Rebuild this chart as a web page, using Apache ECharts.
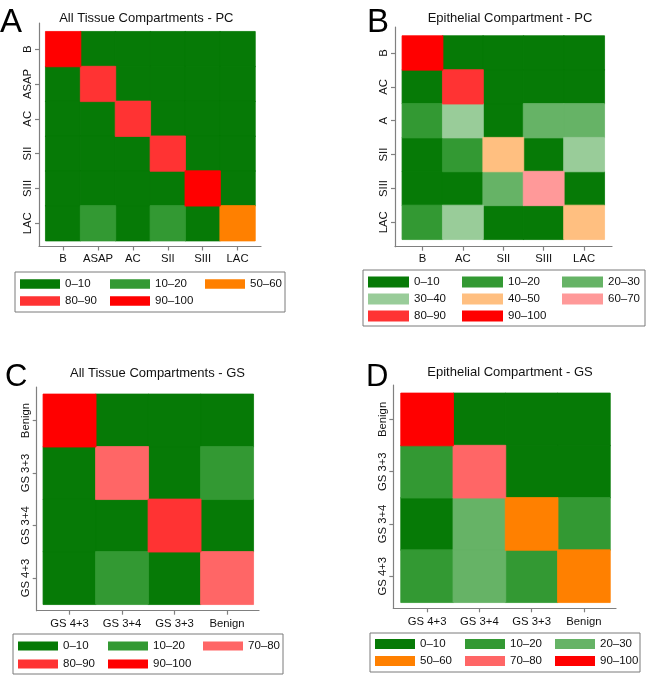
<!DOCTYPE html>
<html><head><meta charset="utf-8">
<script src="https://cdn.jsdelivr.net/npm/echarts@6/dist/echarts.min.js"></script>
<style>html,body{margin:0;padding:0;background:#fff}#c{width:650px;height:675px}</style>
</head><body><div id="c"></div>
<script>
// ---------------- data ----------------
const binLabels = ['0–10','10–20','20–30','30–40','40–50','50–60','60–70','70–80','80–90','90–100'];
const binColors = ['#067a06','#339933','#66b366','#99cc99','#ffbf80','#ff8000','#ff9999','#ff6666','#ff3333','#ff0000'];

const panelTitles = ['All Tissue Compartments - PC','Epithelial Compartment - PC','All Tissue Compartments - GS','Epithelial Compartment - GS'];
const panelLetters = ['A','B','C','D'];

const rowsA = ['B','ASAP','AC','SII','SIII','LAC'];
const colsA = ['B','ASAP','AC','SII','SIII','LAC'];
const valuesA = [
  [95, 5, 5, 5, 5, 5],
  [ 5,85, 5, 5, 5, 5],
  [ 5, 5,85, 5, 5, 5],
  [ 5, 5, 5,85, 5, 5],
  [ 5, 5, 5, 5,95, 5],
  [ 5,15, 5,15, 5,55]
];

const rowsB = ['B','AC','A','SII','SIII','LAC'];
const colsB = ['B','AC','SII','SIII','LAC'];
const valuesB = [
  [95, 5, 5, 5, 5],
  [ 5,85, 5, 5, 5],
  [15,35, 5,25,25],
  [ 5,15,45, 5,35],
  [ 5, 5,25,65, 5],
  [15,35, 5, 5,45]
];

const rowsC = ['Benign','GS 3+3','GS 3+4','GS 4+3'];
const colsC = ['GS 4+3','GS 3+4','GS 3+3','Benign'];
const valuesC = [
  [95, 5, 5, 5],
  [ 5,75, 5,15],
  [ 5, 5,85, 5],
  [ 5,15, 5,75]
];

const rowsD = ['Benign','GS 3+3','GS 3+4','GS 4+3'];
const colsD = ['GS 4+3','GS 3+4','GS 3+3','Benign'];
const valuesD = [
  [95, 5, 5, 5],
  [15,75, 5, 5],
  [ 5,25,55,15],
  [15,25,15,55]
];

// ---------------- layout (positions/sizes only) ----------------
const layouts = [
  { hm:[45.7,31.7,209.3,209], ax:{yx:39, top:23, xy:246.5, right:261}, xMargin:7, yMargin:6,
    title:{x:146.3, y:11.5}, letter:{x:0, y:6, size:33},
    lg:{box:[15,272,285,307], cols:[20,110,205], rowTop:278, iw:40, ih:9.5, gap:5} },
  { hm:[402.3,36,202,203.3], ax:{yx:395, top:27, xy:246.7, right:612}, xMargin:7, yMargin:6,
    title:{x:510, y:11.5}, letter:{x:367, y:6, size:33},
    lg:{box:[363,270,645,323], cols:[368,462,562], rowTop:276, iw:41, ih:11, gap:5} },
  { hm:[43.3,394.3,210,210], ax:{yx:36.7, top:387, xy:610.7, right:259}, xMargin:8, yMargin:5,
    title:{x:157.5, y:366.5}, letter:{x:5, y:362, size:31},
    lg:{box:[13,634,283,668], cols:[18,108,203], rowTop:640, iw:40, ih:9, gap:6} },
  { hm:[401,393.3,209,209], ax:{yx:393.3, top:385, xy:608.3, right:616}, xMargin:8, yMargin:5,
    title:{x:510, y:366}, letter:{x:366, y:362, size:31},
    lg:{box:[370,633,640,668], cols:[375,465,555], rowTop:638, iw:40, ih:10, gap:5} }
];

const panels = [
  {rows:rowsA, cols:colsA, values:valuesA},
  {rows:rowsB, cols:colsB, values:valuesB},
  {rows:rowsC, cols:colsC, values:valuesC},
  {rows:rowsD, cols:colsD, values:valuesD}
];

// ---------------- build ----------------
const FONT = "'Liberation Sans', Arial, Helvetica, sans-serif";
const AXC = '#808080';
const TXT = '#111';
const LEG_TEXT_W = 42;

const option = {animation:false, backgroundColor:'#ffffff', title:[], grid:[], xAxis:[], yAxis:[], series:[], legend:[]};

function binOf(v){ return Math.min(9, Math.floor(v/10)); }

panels.forEach((p, i) => {
  const L = layouts[i];
  option.title.push({text:panelTitles[i], left:L.title.x, top:L.title.y, textAlign:'center', padding:0,
    textStyle:{fontSize:13, fontWeight:'normal', color:TXT, fontFamily:FONT}});
  option.title.push({text:panelLetters[i], left:L.letter.x, top:L.letter.y, padding:0,
    textStyle:{fontSize:L.letter.size, fontWeight:'normal', color:'#000', fontFamily:FONT}});

  const gi = option.grid.length;
  option.grid.push({left:L.hm[0], top:L.hm[1], width:L.hm[2], height:L.hm[3]});
  option.xAxis.push({type:'category', gridIndex:gi, data:p.cols, show:false});
  option.yAxis.push({type:'category', gridIndex:gi, data:p.rows, show:false, inverse:true});

  const ai = gi + 1;
  const cw = L.hm[2] / p.cols.length, ch = L.hm[3] / p.rows.length;
  option.grid.push({left:L.ax.yx, top:L.ax.top, width:L.ax.right - L.ax.yx, height:L.ax.xy - L.ax.top});
  const xT = p.cols.map((_, k) => k), yT = p.rows.map((_, k) => k);
  const lab = {color:TXT, fontSize:11.3, fontFamily:FONT};
  option.xAxis.push({type:'value', gridIndex:ai,
    min:-0.5 - (L.hm[0] - L.ax.yx) / cw,
    max:p.cols.length - 0.5 + (L.ax.right - L.hm[0] - L.hm[2]) / cw,
    splitLine:{show:false},
    axisLine:{show:true, onZero:false, lineStyle:{color:AXC, width:1.2}},
    axisTick:{show:true, customValues:xT, length:4, lineStyle:{color:AXC, width:1.2}},
    axisLabel:Object.assign({customValues:xT, margin:L.xMargin, formatter:v => p.cols[Math.round(v)]}, lab)});
  option.yAxis.push({type:'value', gridIndex:ai, inverse:true,
    min:-0.5 - (L.hm[1] - L.ax.top) / ch,
    max:p.rows.length - 0.5 + (L.ax.xy - L.hm[1] - L.hm[3]) / ch,
    splitLine:{show:false},
    axisLine:{show:true, onZero:false, lineStyle:{color:AXC, width:1.2}},
    axisTick:{show:true, customValues:yT, length:4, lineStyle:{color:AXC, width:1.2}},
    axisLabel:Object.assign({customValues:yT, margin:L.yMargin, rotate:90, formatter:v => p.rows[Math.round(v)]}, lab)});

  const byBin = {};
  p.values.forEach((row, r) => row.forEach((v, c) => {
    const b = binOf(v);
    (byBin[b] = byBin[b] || []).push([c, r, v]);
  }));
  const present = Object.keys(byBin).map(Number).sort((a, b) => a - b);
  present.forEach(b => {
    option.series.push({type:'heatmap', name:binLabels[b], xAxisIndex:gi, yAxisIndex:gi,
      data:byBin[b], itemStyle:{color:binColors[b], borderColor:binColors[b], borderWidth:0.8},
      emphasis:{disabled:true}, silent:true});
  });

  const lg = L.lg;
  const nRows = Math.ceil(present.length / 3);
  for (let c = 0; c < 3; c++) {
    const items = present.filter((_, k) => k % 3 === c).map(b => ({name:binLabels[b], icon:'rect',
      itemStyle:{borderWidth:0}}));
    if (!items.length) continue;
    const leg = {orient:'vertical', selectedMode:false, itemWidth:lg.iw, itemHeight:lg.ih, itemGap:lg.gap,
      data:items, icon:'rect', itemStyle:{borderWidth:0},
      textStyle:{fontSize:11.5, color:TXT, fontFamily:FONT, lineHeight:lg.ih, width:LEG_TEXT_W}};
    if (c === 0) {
      const contentBottom = lg.rowTop + nRows * lg.ih + (nRows - 1) * lg.gap;
      Object.assign(leg, {left:lg.box[0], top:lg.box[1], borderColor:'#7a7a7a', borderWidth:1,
        padding:[lg.rowTop - lg.box[1], lg.box[2] - (lg.cols[0] + lg.iw + 5 + LEG_TEXT_W),
                 lg.box[3] - contentBottom, lg.cols[0] - lg.box[0]]});
    } else {
      Object.assign(leg, {left:lg.cols[c], top:lg.rowTop, padding:0});
    }
    option.legend.push(leg);
  }
});

const chart = echarts.init(document.getElementById('c'), null, {renderer:'canvas'});
chart.setOption(option);
</script>
</body></html>
